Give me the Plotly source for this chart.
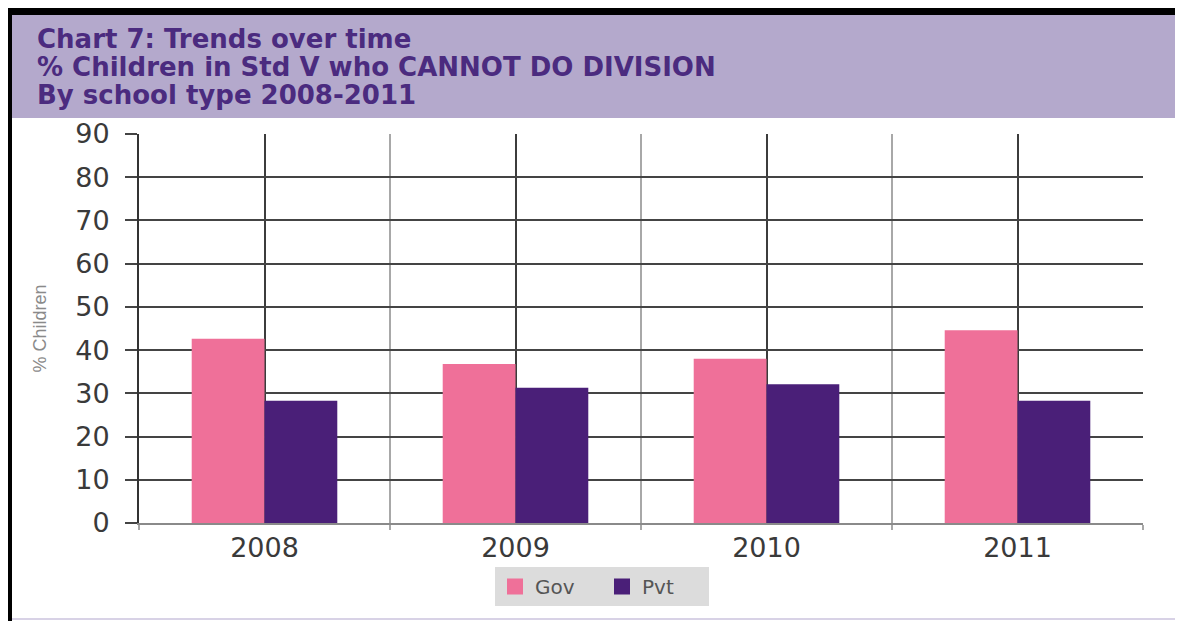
import plotly.graph_objects as go

years = ["2008", "2009", "2010", "2011"]
gov = [42.6, 36.8, 38.0, 44.6]
pvt = [28.3, 31.3, 32.1, 28.3]
series_names = ["Gov", "Pvt"]
series_colors = ["#ef7099", "#4a1f78"]
title_lines = ["Chart 7: Trends over time",
               "% Children in Std V who CANNOT DO DIVISION",
               "By school type 2008-2011"]

# page has an 8px body margin; figure is laid out in page pixel terms
OFF = 8
W, H = 1175, 613
L, T = 139 - OFF, 134 - OFF
R = W - (1143 - OFF)
B = H - (523 - OFF)
PW, PH = W - L - R, H - T - B


def px(x):
    return (x - OFF - L) / PW


def py(y):
    return (H - B - (y - OFF)) / PH


xpos = list(range(len(years)))

fig = go.Figure()
for name, vals, col in zip(series_names, [gov, pvt], series_colors):
    fig.add_trace(go.Bar(x=xpos, y=vals, name=name, marker=dict(color=col, line=dict(width=0)),
                         showlegend=False))
    fig.add_trace(go.Scatter(x=[None], y=[None], mode="markers", name=name,
                             marker=dict(symbol="square", size=16, color=col)))

shapes = [
    dict(type="rect", xref="paper", yref="paper", x0=px(12), x1=px(1183), y0=py(118), y1=py(15),
         fillcolor="#b4a9cc", line=dict(width=0), layer="below"),
    dict(type="rect", xref="paper", yref="paper", x0=px(8), x1=px(1183), y0=py(15), y1=py(8),
         fillcolor="#000000", line=dict(width=0)),
    dict(type="rect", xref="paper", yref="paper", x0=px(8), x1=px(12), y0=py(621), y1=py(8),
         fillcolor="#000000", line=dict(width=0)),
    dict(type="line", xref="paper", yref="paper", x0=px(12), x1=px(1183), y0=py(619), y1=py(619),
         line=dict(color="#d8d2e6", width=2)),
]

annotations = []
for line, yc in zip(title_lines, [39, 67, 95]):
    annotations.append(dict(text=line, xref="paper", yref="paper", x=px(35), y=py(yc),
                            xanchor="left", yanchor="middle", showarrow=False,
                            font=dict(family="DejaVu Sans", size=26, color="#4b2b7f",
                                      weight="bold")))

fig.update_layout(
    width=W, height=H,
    margin=dict(l=L, r=R, t=T, b=B),
    paper_bgcolor="#ffffff", plot_bgcolor="#ffffff",
    barmode="group", bargap=0.42, bargroupgap=0,
    shapes=shapes,
    annotations=annotations,
    legend=dict(orientation="h", x=px(602), xanchor="center", y=py(567), yanchor="top",
                bgcolor="#dcdcdc", font=dict(family="DejaVu Sans", size=20, color="#555555"),
                itemwidth=30, tracegroupgap=0, entrywidth=62, entrywidthmode="pixels"),
    xaxis=dict(range=[-0.5, 3.5], tickvals=xpos, ticktext=years,
               showgrid=True, gridcolor="#3c3c3c", gridwidth=1.5,
               ticks="", showline=True, linecolor="#8a8a8a", linewidth=2,
               tickfont=dict(family="DejaVu Sans", size=27, color="#3a3a3a"),
               zeroline=False,
               minor=dict(tickvals=[-0.5, 0.5, 1.5, 2.5, 3.5], showgrid=True, gridcolor="#a8a8a8",
                          gridwidth=2, ticks="outside", ticklen=5, tickcolor="#a8a8a8", tickwidth=2)),
    yaxis=dict(range=[0, 90], dtick=10, showgrid=True, gridcolor="#444444", gridwidth=1.5,
               ticks="outside", ticklen=12, tickcolor="#444444", tickwidth=1.5,
               showline=True, linecolor="#333333", linewidth=2, zeroline=False,
               ticklabelstandoff=10,
               tickfont=dict(family="DejaVu Sans", size=27, color="#3a3a3a"),
               title=dict(text="% Children", standoff=24,
                          font=dict(family="Liberation Sans Narrow, Liberation Sans, sans-serif",
                                    size=18, color="#8a8a8a"))),
)

fig.write_html("out.html")
